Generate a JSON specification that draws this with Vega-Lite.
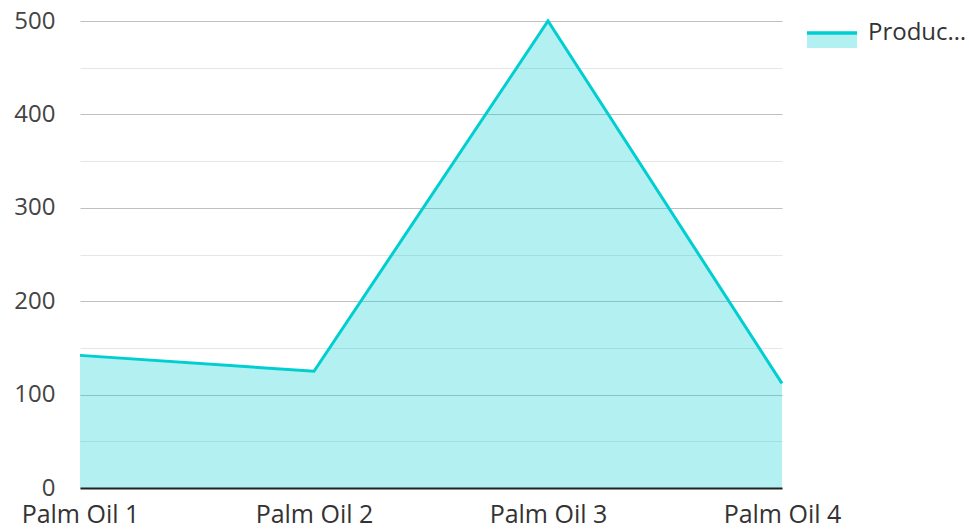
{
  "$schema": "https://vega.github.io/schema/vega-lite/v6.json",
  "width": 702,
  "height": 467,
  "autosize": {"type": "none"},
  "padding": {"left": 80, "top": 21, "right": 187, "bottom": 41},
  "background": "white",
  "config": {
    "view": {"stroke": null},
    "font": "Open Sans"
  },
  "data": {
    "values": [
      {"product": "Palm Oil 1", "value": 142, "series": "Production"},
      {"product": "Palm Oil 2", "value": 125, "series": "Production"},
      {"product": "Palm Oil 3", "value": 500, "series": "Production"},
      {"product": "Palm Oil 4", "value": 112, "series": "Production"}
    ]
  },
  "encoding": {
    "x": {
      "field": "product",
      "type": "ordinal",
      "scale": {"type": "point", "padding": 0},
      "axis": {
        "title": null,
        "labelAngle": 0,
        "labelFont": "Open Sans",
        "labelFontSize": 25,
        "labelColor": "#333333",
        "labelPadding": 14,
        "ticks": false,
        "domainColor": "#222222",
        "domainWidth": 2,
        "grid": false,
        "zindex": 1
      }
    },
    "y": {
      "field": "value",
      "type": "quantitative",
      "scale": {"domain": [0, 500], "nice": false},
      "axis": {
        "title": null,
        "values": [0, 50, 100, 150, 200, 250, 300, 350, 400, 450, 500],
        "labelExpr": "datum.value % 100 === 0 ? datum.label : ''",
        "labelFont": "Open Sans",
        "labelFontSize": 24,
        "labelColor": "#444444",
        "labelPadding": 25,
        "ticks": false,
        "domain": false,
        "grid": true,
        "gridWidth": 1.2,
        "gridColor": {
          "condition": {"test": "datum.value % 100 === 0", "value": "#c0c0c0"},
          "value": "#e6e6e6"
        }
      }
    }
  },
  "layer": [
    {
      "mark": {"type": "area", "color": "#00ced1", "fillOpacity": 0.3}
    },
    {
      "mark": {"type": "line", "strokeWidth": 3},
      "encoding": {
        "stroke": {
          "field": "series",
          "type": "nominal",
          "scale": {"range": ["#00ced1"]},
          "legend": {
            "title": null,
            "orient": "none",
            "legendX": 725,
            "legendY": -15,
            "symbolType": "M-1,0H1V0.6H-1Z",
            "symbolSize": 2500,
            "symbolStrokeWidth": 3.5,
            "symbolDash": [50, 300],
            "labelFont": "Open Sans",
            "labelFontSize": 24,
            "labelColor": "#333333",
            "labelOffset": 9,
            "labelLimit": 100,
            "encode": {
              "symbols": {
                "update": {
                  "fill": {"value": "#b2f0f1"},
                  "fillOpacity": {"value": 1}
                }
              }
            }
          }
        }
      }
    }
  ]
}
